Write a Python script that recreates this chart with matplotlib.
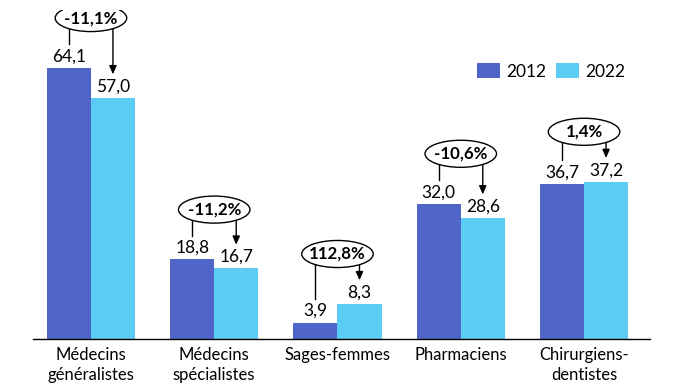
import numpy as np
import matplotlib
matplotlib.use("Agg")
import matplotlib.pyplot as plt
from matplotlib.patches import Ellipse

categories = ["Médecins\ngénéralistes", "Médecins\nspécialistes", "Sages-femmes",
              "Pharmaciens", "Chirurgiens-\ndentistes"]
v2012 = [64.1, 18.8, 3.9, 32.0, 36.7]
v2022 = [57.0, 16.7, 8.3, 28.6, 37.2]
evol = ["-11,1%", "-11,2%", "112,8%", "-10,6%", "1,4%"]

c2012 = "#4F66C8"
c2022 = "#5BCCF3"

plt.rcParams['font.family'] = ['Lato', 'DejaVu Sans']
fs = 12.5

fig = plt.figure(figsize=(6.91, 3.87), dpi=100)
ax = fig.add_axes([33 / 691, 48 / 387, 617 / 691, 329 / 387])

x = np.arange(len(categories))
w = 0.357
ax.bar(x - w / 2, v2012, w, color=c2012, label="2012")
ax.bar(x + w / 2, v2022, w, color=c2022, label="2022")

def fmt(v):
  return f"{v:.1f}".replace(".", ",")

for i in range(len(x)):
  ax.text(x[i] - w / 2, v2012[i] + 0.8, fmt(v2012[i]), ha='center', va='bottom', fontsize=fs)
  ax.text(x[i] + w / 2, v2022[i] + 0.8, fmt(v2022[i]), ha='center', va='bottom', fontsize=fs)

  # ellipse with evolution
  ey = max(v2012[i], v2022[i]) + 11.8
  ew, eh = 0.58, 6.4
  ax.add_patch(Ellipse((x[i], ey), ew, eh, facecolor='white', edgecolor='black', lw=1, zorder=3))
  ax.text(x[i], ey, evol[i], ha='center', va='center', fontsize=12.2, fontweight='bold', zorder=4)
  dx = w / 2
  ystart = ey - (eh / 2) * np.sqrt(1 - (dx / (ew / 2)) ** 2)
  ax.plot([x[i] - dx, x[i] - dx], [ystart, v2012[i] + 5.6], color='black', lw=1)
  ax.annotate("", xy=(x[i] + dx, v2022[i] + 5.6), xytext=(x[i] + dx, ystart),
              arrowprops=dict(arrowstyle='-|>,head_length=0.5,head_width=0.22', color='black', lw=1,
                              shrinkA=0, shrinkB=0))

ax.set_xlim(-0.47, 4.535)
ax.set_ylim(0, 77.8)
ax.set_xticks(x)
ax.set_xticklabels(categories, fontsize=12, linespacing=1.25)
ax.tick_params(axis='x', length=0, pad=6)
ax.set_yticks([])
for s in ['top', 'right', 'left']:
  ax.spines[s].set_visible(False)
ax.spines['bottom'].set_color('black')
ax.spines['bottom'].set_linewidth(1)

ax.legend(loc='upper right', bbox_to_anchor=(0.985, 0.885), ncol=2, frameon=False, fontsize=fs,
          handlelength=1.35, handleheight=0.95, handletextpad=0.35, columnspacing=0.55)

fig.savefig("out.png", dpi=100)
